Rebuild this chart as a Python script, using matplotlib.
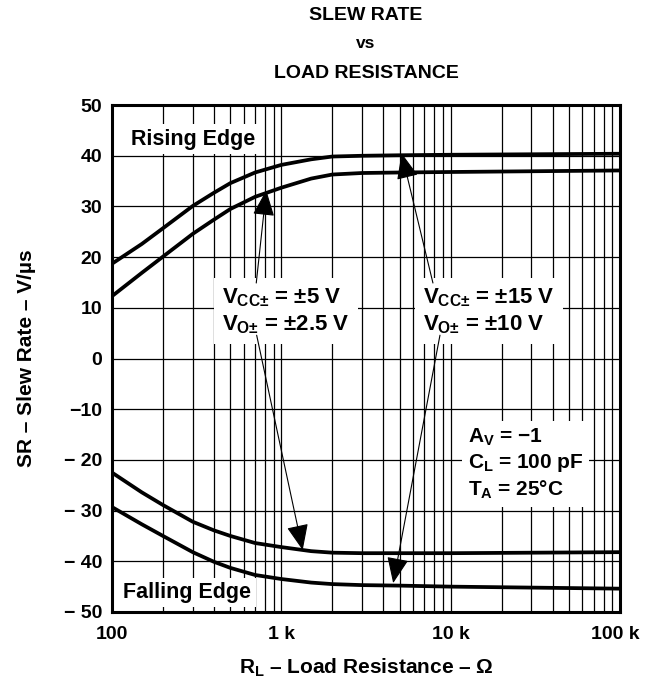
#!/usr/bin/env python3
"""Slew rate vs load resistance, redrawn from a datasheet figure."""

import matplotlib
matplotlib.use("Agg")
import matplotlib.pyplot as plt
import matplotlib.transforms as mtransforms
from matplotlib.ticker import FixedLocator, NullFormatter

plt.rcParams["font.family"] = ["Liberation Sans", "DejaVu Sans"]
plt.rcParams["font.weight"] = "bold"
plt.rcParams["axes.labelweight"] = "bold"
plt.rcParams["mathtext.fontset"] = "custom"
plt.rcParams["mathtext.rm"] = "Liberation Sans:bold"
plt.rcParams["mathtext.it"] = "Liberation Sans:bold"
plt.rcParams["mathtext.bf"] = "Liberation Sans:bold"

# load resistance (ohm) and slew rate (V/us)
rl = [100, 150, 200, 300, 400, 500, 700, 1000, 1500, 2000, 3000, 5000, 10000, 100000]
rise_15v = [18.7, 22.6, 25.7, 30.1, 32.7, 34.6, 36.7, 38.2, 39.3, 39.85, 40.0, 40.1, 40.2, 40.4]
rise_5v = [12.3, 16.9, 20.1, 24.6, 27.4, 29.5, 31.9, 33.7, 35.5, 36.3, 36.6, 36.7, 36.8, 37.1]
fall_5v = [-22.5, -26.4, -28.9, -32.2, -33.9, -35.0, -36.4, -37.2, -38.0, -38.3, -38.4, -38.4, -38.4, -38.2]
fall_15v = [-29.3, -32.7, -35.0, -38.2, -40.1, -41.3, -42.7, -43.5, -44.2, -44.5, -44.7, -44.8, -45.0, -45.4]

x_ticks = [100, 1000, 10000, 100000]
x_ticklabels = ["100", "1 k", "10 k", "100 k"]
y_ticks = [-50, -40, -30, -20, -10, 0, 10, 20, 30, 40, 50]
y_ticklabels = ["\u2212 50", "\u2212 40", "\u2212 30", "\u2212 20", "\u221210",
                "0", "10", "20", "30", "40", "50"]

fig = plt.figure(figsize=(6.53, 6.85), dpi=100)
ax = fig.add_axes([0.1715, 0.1066, 0.778, 0.740])

ax.set_xscale("log")
ax.set_xlim(100, 100000)
ax.set_ylim(-50, 50)

minor = [m * d for d in (100, 1000, 10000) for m in range(2, 10)]
ax.xaxis.set_major_locator(FixedLocator(x_ticks))
ax.xaxis.set_minor_locator(FixedLocator(minor))
ax.xaxis.set_minor_formatter(NullFormatter())
ax.set_xticklabels(x_ticklabels)
ax.set_yticks(y_ticks)
ax.set_yticklabels(y_ticklabels)
ax.tick_params(which="both", length=0, labelsize=14)
ax.tick_params(axis="x", pad=10)
ax.tick_params(axis="y", pad=7)

# last x label sits a little inside the right edge in the original
xl = ax.get_xticklabels()
xl[-1].set_transform(xl[-1].get_transform() + mtransforms.ScaledTranslation(-0.05, 0, fig.dpi_scale_trans))

ax.grid(which="both", axis="x", color="black", lw=0.9, zorder=0)
ax.grid(which="major", axis="y", color="black", lw=0.9, zorder=0)
ax.set_axisbelow(True)
for s in ax.spines.values():
    s.set_linewidth(2.2)

for ys in (rise_15v, rise_5v, fall_5v, fall_15v):
    ax.plot(rl, ys, color="black", lw=2.7, solid_capstyle="butt", solid_joinstyle="round", zorder=3)

fig.text(0.5605, 1 - 15 / 685, "SLEW RATE", fontsize=14, fontweight="bold", ha="center", va="center")
fig.text(0.5605, 1 - 43 / 685, "vs", fontsize=12.5, fontweight="bold", ha="center", va="center")
fig.text(0.5605, 1 - 73 / 685, "LOAD RESISTANCE", fontsize=14, fontweight="bold", ha="center", va="center")

ax.set_xlabel("$R_L$ \u2013 Load Resistance \u2013 \u03a9", fontsize=15, labelpad=10)
ax.set_ylabel("SR \u2013 Slew Rate \u2013 V/\u00b5s", fontsize=15, labelpad=20)

white = dict(fc="white", ec="none", pad=3)
ax.text(303, 43.3, "Rising Edge", fontsize=15.5, ha="center", va="center", bbox=white, zorder=2)
ax.text(279, -46.1, "Falling Edge", fontsize=15.5, ha="center", va="center", bbox=white, zorder=2)

box = dict(fc="white", ec="none", pad=6)
ax.text(449, 9.4, "$V_{CC\u00b1}$ = \u00b15 V\n$V_{O\u00b1}$ = \u00b12.5 V", fontsize=16,
        ha="left", va="center", linespacing=1.25, bbox=box, zorder=2)
ax.text(6887, 9.4, "$V_{CC\u00b1}$ = \u00b115 V\n$V_{O\u00b1}$ = \u00b110 V", fontsize=16,
        ha="left", va="center", linespacing=1.25, bbox=box, zorder=2)
ax.text(12600, -20.8, "$A_V$ = \u22121\n$C_L$ = 100 pF\n$T_A$ = 25\u00b0C", fontsize=15,
        ha="left", va="center", linespacing=1.25, bbox=dict(fc="white", ec="none", pad=4), zorder=2)

arrows = [
    ((711, 14.9), (815, 33.2)),
    ((715, 4.6), (1337, -37.8)),
    ((7857, 14.9), (5130, 40.5)),
    ((8644, 4.6), (4575, -44.3)),
]
for tail, tip in arrows:
    ax.annotate("", xy=tip, xytext=tail,
                arrowprops=dict(arrowstyle="-|>,head_length=0.9,head_width=0.38",
                                color="black", lw=0.8, mutation_scale=18,
                                shrinkA=0, shrinkB=0),
                zorder=4)

fig.savefig("out.png", dpi=100)
